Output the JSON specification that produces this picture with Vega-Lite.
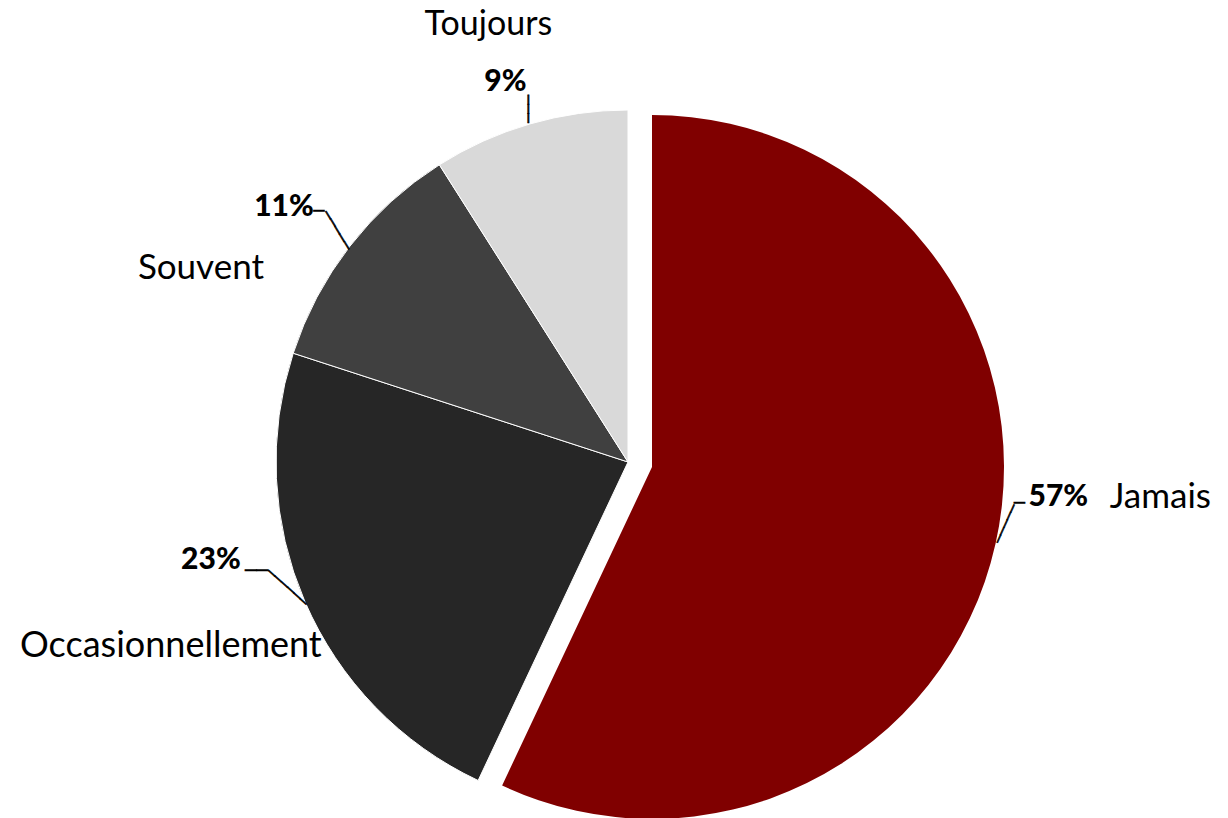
{
  "$schema": "https://vega.github.io/schema/vega-lite/v6.json",
  "width": 1200,
  "height": 712,
  "autosize": {"type": "none"},
  "padding": {"left": 28, "top": 106, "right": 0, "bottom": 0},
  "background": "white",
  "view": {"stroke": null},
  "data": {
    "values": [
      {"reponse": "Jamais", "part": 0.57, "ordre": 1},
      {"reponse": "Occasionnellement", "part": 0.23, "ordre": 2},
      {"reponse": "Souvent", "part": 0.11, "ordre": 3},
      {"reponse": "Toujours", "part": 0.09, "ordre": 4}
    ]
  },
  "encoding": {
    "theta": {"field": "part", "type": "quantitative", "stack": true},
    "order": {"field": "ordre", "type": "quantitative", "sort": "ascending"}
  },
  "layer": [
    {
      "mark": {"type": "arc", "outerRadius": 352, "stroke": "white", "strokeWidth": 1},
      "encoding": {
        "color": {"field": "reponse", "type": "nominal", "legend": null,
          "scale": {"domain": ["Jamais", "Occasionnellement", "Souvent", "Toujours"], "range": ["#800000", "#262626", "#404040", "#d9d9d9"]}},
        "opacity": {"condition": {"test": "datum.reponse === 'Jamais'", "value": 0}, "value": 1}
      }
    },
    {
      "mark": {"type": "arc", "outerRadius": 352, "xOffset": 24, "yOffset": 5},
      "encoding": {
        "color": {"field": "reponse", "type": "nominal", "legend": null},
        "opacity": {"condition": {"test": "datum.reponse === 'Jamais'", "value": 1}, "value": 0}
      }
    },
    {
      "mark": {"type": "text", "radius": 400, "dx": -28, "dy": -53, "font": "Lato", "fontSize": 34, "align": "center", "baseline": "middle", "color": "black"},
      "encoding": {"text": {"condition": {"test": "datum.reponse === 'Toujours'", "field": "reponse"}, "value": ""}}
    },
    {
      "mark": {"type": "text", "radius": 400, "dx": -11, "dy": 4, "font": "Lato", "fontSize": 30, "fontWeight": 900, "align": "center", "baseline": "middle", "color": "black"},
      "encoding": {"text": {"condition": {"test": "datum.reponse === 'Toujours'", "field": "part", "format": ".0%"}, "value": ""}}
    },
    {
      "mark": {"type": "text", "radius": 400, "dx": -111, "dy": 51, "font": "Lato", "fontSize": 35, "align": "center", "baseline": "middle", "color": "black"},
      "encoding": {"text": {"condition": {"test": "datum.reponse === 'Souvent'", "field": "reponse"}, "value": ""}}
    },
    {
      "mark": {"type": "text", "radius": 400, "dx": -28, "dy": -10, "font": "Lato", "fontSize": 30, "fontWeight": 900, "align": "center", "baseline": "middle", "color": "black"},
      "encoding": {"text": {"condition": {"test": "datum.reponse === 'Souvent'", "field": "part", "format": ".0%"}, "value": ""}}
    },
    {
      "mark": {"type": "text", "radius": 400, "dx": -90, "dy": 25, "font": "Lato", "fontSize": 36, "align": "center", "baseline": "middle", "color": "black"},
      "encoding": {"text": {"condition": {"test": "datum.reponse === 'Occasionnellement'", "field": "reponse"}, "value": ""}}
    },
    {
      "mark": {"type": "text", "radius": 400, "dx": -50, "dy": -61, "font": "Lato", "fontSize": 30, "fontWeight": 900, "align": "center", "baseline": "middle", "color": "black"},
      "encoding": {"text": {"condition": {"test": "datum.reponse === 'Occasionnellement'", "field": "part", "format": ".0%"}, "value": ""}}
    },
    {
      "mark": {"type": "text", "radius": 400, "dx": 142, "dy": -52, "font": "Lato", "fontSize": 35, "align": "center", "baseline": "middle", "color": "black"},
      "encoding": {"text": {"condition": {"test": "datum.reponse === 'Jamais'", "field": "reponse"}, "value": ""}}
    },
    {
      "mark": {"type": "text", "radius": 400, "dx": 40, "dy": -52, "font": "Lato", "fontSize": 30, "fontWeight": 900, "align": "center", "baseline": "middle", "color": "black"},
      "encoding": {"text": {"condition": {"test": "datum.reponse === 'Jamais'", "field": "part", "format": ".0%"}, "value": ""}}
    },
    {
      "mark": {"type": "text", "radius": 400, "angle": 90, "dx": 31, "dy": -12, "font": "DejaVu Sans Mono", "fontSize": 15.5, "align": "center", "baseline": "middle", "color": "black", "stroke": "black", "strokeWidth": 0.6},
      "encoding": {"text": {"condition": {"test": "datum.reponse === 'Toujours'", "value": "───"}, "value": ""}}
    },
    {
      "mark": {"type": "text", "radius": 400, "angle": 58.8, "dx": 24.7, "dy": -13.7, "font": "DejaVu Sans Mono", "fontSize": 14.75, "align": "center", "baseline": "middle", "color": "black", "stroke": "black", "strokeWidth": 0.6},
      "encoding": {"text": {"condition": {"test": "datum.reponse === 'Souvent'", "value": "─────"}, "value": ""}}
    },
    {
      "mark": {"type": "text", "radius": 400, "dx": 7, "dy": -5, "font": "DejaVu Sans Mono", "fontSize": 18, "align": "center", "baseline": "middle", "color": "black", "stroke": "black", "strokeWidth": 0.6},
      "encoding": {"text": {"condition": {"test": "datum.reponse === 'Souvent'", "value": "─"}, "value": ""}}
    },
    {
      "mark": {"type": "text", "radius": 400, "angle": 41.8, "dx": -2.6, "dy": -41.9, "font": "DejaVu Sans Mono", "fontSize": 14.1, "align": "center", "baseline": "middle", "color": "black", "stroke": "black", "strokeWidth": 0.6},
      "encoding": {"text": {"condition": {"test": "datum.reponse === 'Occasionnellement'", "value": "──────"}, "value": ""}}
    },
    {
      "mark": {"type": "text", "radius": 400, "dx": -4.5, "dy": -50, "font": "DejaVu Sans Mono", "fontSize": 19, "align": "center", "baseline": "middle", "color": "black", "stroke": "black", "strokeWidth": 0.6},
      "encoding": {"text": {"condition": {"test": "datum.reponse === 'Occasionnellement'", "value": "──"}, "value": ""}}
    },
    {
      "mark": {"type": "text", "radius": 400, "angle": 114, "dx": -18.3, "dy": 22.9, "font": "DejaVu Sans Mono", "fontSize": 13.8, "align": "center", "baseline": "middle", "color": "black", "stroke": "black", "strokeWidth": 0.6},
      "encoding": {"text": {"condition": {"test": "datum.reponse === 'Jamais'", "value": "─────"}, "value": ""}}
    },
    {
      "mark": {"type": "text", "radius": 400, "dx": 1, "dy": -45, "font": "DejaVu Sans Mono", "fontSize": 18, "align": "center", "baseline": "middle", "color": "black", "stroke": "black", "strokeWidth": 0.6},
      "encoding": {"text": {"condition": {"test": "datum.reponse === 'Jamais'", "value": "─"}, "value": ""}}
    }
  ]
}
